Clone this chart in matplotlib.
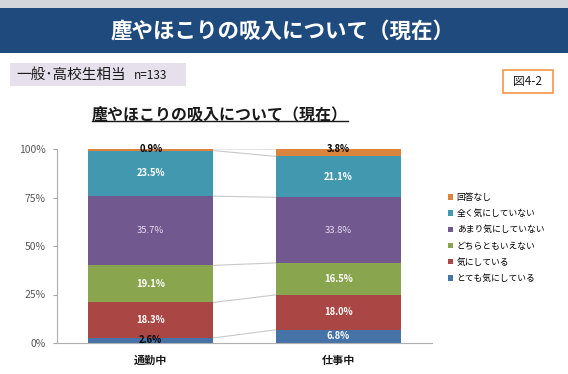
import matplotlib
matplotlib.use("Agg")
import matplotlib.pyplot as plt
from matplotlib.patches import Rectangle, Patch
import numpy as np

plt.rcParams['font.family'] = ['Noto Sans CJK JP', 'DejaVu Sans']

categories = ['通勤中', '仕事中']
series = ['とても気にしている', '気にしている', 'どちらともいえない',
          'あまり気にしていない', '全く気にしていない', '回答なし']
values = {
    'とても気にしている': [2.6, 6.8],
    '気にしている': [18.3, 18.0],
    'どちらともいえない': [19.1, 16.5],
    'あまり気にしていない': [35.7, 33.8],
    '全く気にしていない': [23.5, 21.1],
    '回答なし': [0.9, 3.8],
}
colors = ['#4572A7', '#AA4643', '#89A54E', '#71588F', '#4198AF', '#DB843D']
label_colors = ['white', 'white', 'white', '#E6DDF0', 'white', 'black']
yticks = [0, 25, 50, 75, 100]
yticklabels = ['0%', '25%', '50%', '75%', '100%']

W, H = 568, 374
fig = plt.figure(figsize=(W / 100, H / 100), dpi=100)
fig.patch.set_facecolor('white')

def fx(px):
    return px / W

def fy(py):
    return 1 - py / H

# top grey strip and banner
fig.patches.append(Rectangle((0, fy(8)), 1, 8 / H, transform=fig.transFigure,
                             facecolor='#D3D7DC', edgecolor='none'))
fig.patches.append(Rectangle((0, fy(53)), 1, 45 / H, transform=fig.transFigure,
                             facecolor='#1F4A7E', edgecolor='none'))
fig.text(fx(283), fy(31), '塵やほこりの吸入について（現在）', color='white',
         fontsize=15.5, fontweight='bold', ha='center', va='center')

# subtitle box
fig.patches.append(Rectangle((fx(10), fy(86)), 176 / W, 23 / H, transform=fig.transFigure,
                             facecolor='#E5E0EC', edgecolor='none'))
fig.text(fx(16), fy(75), '一般･高校生相当', fontsize=10.5, ha='left', va='center',
         color='#1a1a1a')
fig.text(fx(134), fy(75.5), 'n=133', fontsize=8.5, ha='left', va='center', color='#1a1a1a')

# figure number box
fig.patches.append(Rectangle((fx(503), fy(93)), 50 / W, 23 / H, transform=fig.transFigure,
                             facecolor='white', edgecolor='#F79646', linewidth=1.2))
fig.text(fx(528), fy(81.5), '図4-2', fontsize=8.5, ha='center', va='center', color='#1a1a1a')

# chart title
title = fig.text(fx(220), fy(114), '塵やほこりの吸入について（現在）', fontsize=11.5,
                 fontweight='bold', ha='center', va='center', color='#1a1a1a')

# axes
ax = fig.add_axes([fx(57), fy(343), (432 - 57) / W, (343 - 149) / H])
x = np.arange(len(categories))
width = 0.665
bottom = np.zeros(len(categories))
tops = []
for i, s in enumerate(series):
    v = np.array(values[s])
    ax.bar(x, v, width, bottom=bottom, color=colors[i], label=s, zorder=2)
    for j in range(len(categories)):
        if i == len(series) - 1:
            ypos = bottom[j] + v[j]
        else:
            ypos = bottom[j] + v[j] / 2
        fw = 'normal' if i == 3 else 'bold'
        ax.text(x[j], ypos, f'{v[j]:.1f}%', ha='center', va='center',
                fontsize=6.8, color=label_colors[i] if not (i == 0 and v[j] < 4) else 'black',
                fontweight=fw, zorder=4, clip_on=False)
    bottom = bottom + v
    tops.append(bottom.copy())

# series lines
for t in tops:
    ax.plot([x[0] + width / 2, x[1] - width / 2], [t[0], t[1]], color='#C8C8C8',
            linewidth=0.8, zorder=1)

ax.set_xlim(-0.5, 1.5)
ax.set_ylim(0, 100)
ax.set_yticks(yticks)
ax.set_yticklabels(yticklabels, fontsize=7.5, color='#595959')
ax.set_xticks(x)
ax.set_xticklabels(categories, fontsize=8, fontweight='bold', color='#1a1a1a')
ax.tick_params(axis='x', length=0, pad=8)
ax.tick_params(axis='y', length=3, color='#A6A6A6', pad=5)
for sp in ['top', 'right']:
    ax.spines[sp].set_visible(False)
for sp in ['left', 'bottom']:
    ax.spines[sp].set_color('#B0B0B0')
    ax.spines[sp].set_linewidth(0.8)
ax.set_facecolor('none')

handles = [Patch(facecolor=colors[i], edgecolor='none', label=series[i])
           for i in range(len(series))][::-1]
fig.legend(handles=handles, loc='center left', bbox_to_anchor=(fx(448), fy(238)),
           frameon=False, fontsize=6.3, handlelength=0.6, handleheight=0.6,
           handletextpad=0.4, labelspacing=0.82, borderpad=0, borderaxespad=0)

# underline the chart title
fig.canvas.draw()
bb = title.get_window_extent(renderer=fig.canvas.get_renderer())
inv = fig.transFigure.inverted()
(x0, y0), (x1, y1) = inv.transform([[bb.x0, bb.y0], [bb.x1, bb.y1]])
fig.add_artist(plt.Line2D([x0, x1], [y0 + 0.002, y0 + 0.002], transform=fig.transFigure,
                          color='#1a1a1a', linewidth=1.0))

fig.savefig('out.png', dpi=100)
